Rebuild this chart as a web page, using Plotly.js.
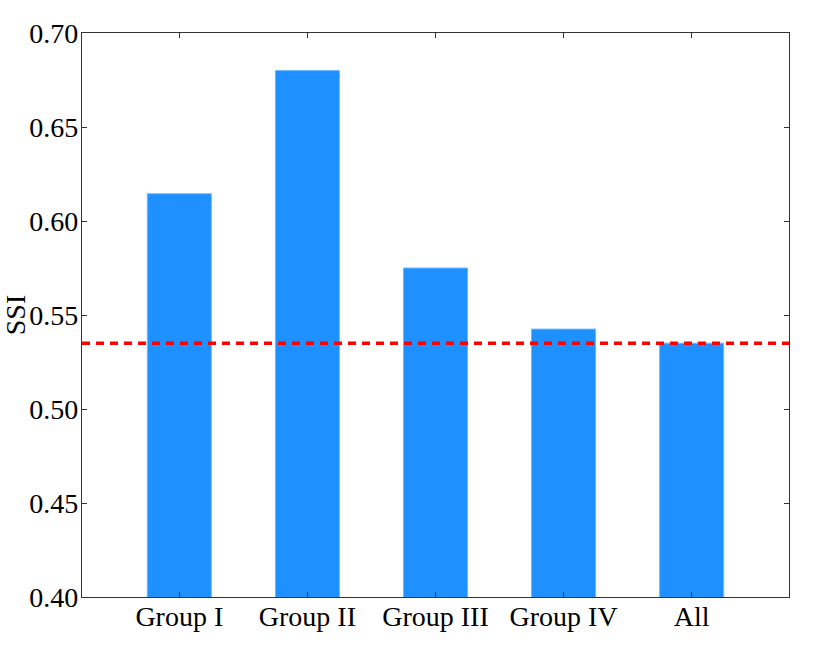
<!DOCTYPE html>
<html>
<head>
<meta charset="utf-8">
<script src="https://cdn.plot.ly/plotly-3.0.1.min.js"></script>
<style>
  html, body { margin: 0; padding: 0; background: #fff; }
  #chart { width: 830px; height: 664px; }
</style>
</head>
<body>
<div id="chart"></div>
<script>
const groups = ['Group I', 'Group II', 'Group III', 'Group IV', 'All'];
const ssiValues = [0.6145, 0.680, 0.575, 0.5425, 0.535];
const baselineSSI = 0.535;
const yTicks = [0.40, 0.45, 0.50, 0.55, 0.60, 0.65, 0.70];

const FONT = { family: "'Liberation Serif', 'Times New Roman', serif", color: '#000', size: 28 };

const bars = {
  x: groups.map((_, i) => i),
  y: ssiValues,
  type: 'bar',
  width: 0.5,
  marker: {
    color: '#1e90ff',
    line: { color: '#6fb6ff', width: 1 },
  },
  hoverinfo: 'skip',
};

// reference line across the whole axis width
const baseline = {
  x: [-0.76, 4.76],
  y: [baselineSSI, baselineSSI],
  type: 'scatter',
  mode: 'lines',
  line: { color: '#ff0000', width: 3.6, dash: '8px,6px' },
  hoverinfo: 'skip',
};

const axisCommon = {
  showline: true,
  linecolor: '#333',
  linewidth: 1.2,
  mirror: 'allticks',
  ticks: 'inside',
  ticklen: 5,
  tickcolor: '#333',
  showgrid: false,
  zeroline: false,
  tickfont: FONT,
};

const layout = {
  width: 830,
  height: 664,
  paper_bgcolor: '#fff',
  plot_bgcolor: '#fff',
  font: FONT,
  showlegend: false,
  margin: { t: 33, r: 41, b: 67, l: 82 },
  xaxis: Object.assign({}, axisCommon, {
    range: [-0.76, 4.76],
    tickvals: groups.map((_, i) => i),
    ticktext: groups,
    ticklabelstandoff: -6,
  }),
  yaxis: Object.assign({}, axisCommon, {
    range: [0.40, 0.70],
    tickvals: yTicks,
    ticktext: yTicks.map(v => v.toFixed(2)),
    ticklabelstandoff: -3,
    title: { text: 'SSI', font: FONT, standoff: 2 },
  }),
};

Plotly.newPlot('chart', [bars, baseline], layout, { displayModeBar: false, staticPlot: true });
</script>
</body>
</html>
